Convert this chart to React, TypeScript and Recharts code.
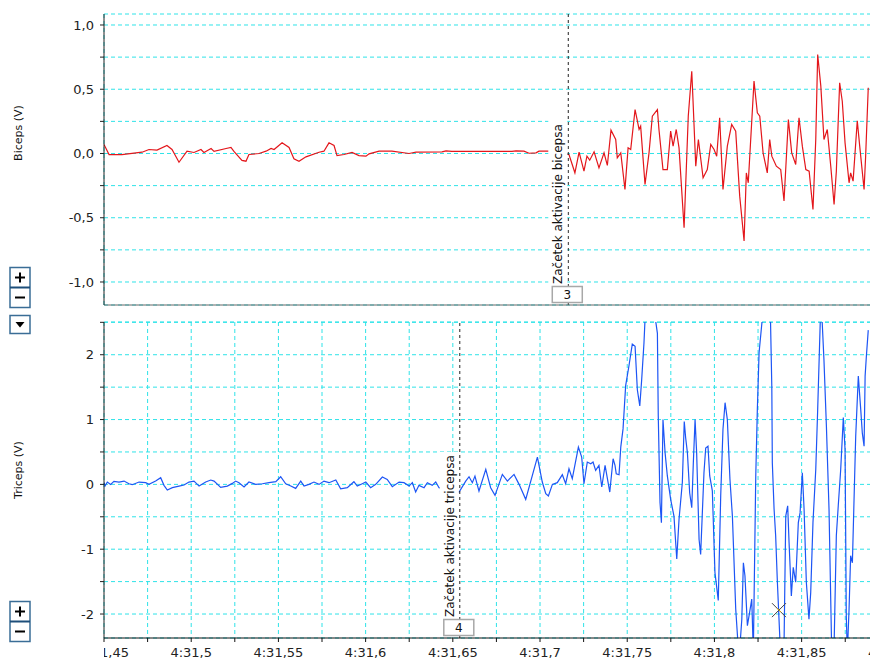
import React from "react";
import { LineChart, Line, XAxis, YAxis, CartesianGrid, ReferenceLine, ReferenceDot } from "recharts";

const FONT = '"DejaVu Sans", sans-serif';
const GRID = "#2fe3e8";

// time axis: seconds after 4:00, every 0.025 s
const xTicks = [
  31.45, 31.475, 31.5, 31.525, 31.55, 31.575, 31.6, 31.625, 31.65, 31.675,
  31.7, 31.725, 31.75, 31.775, 31.8, 31.825, 31.85, 31.875, 31.9,
];
const bicepsTicks = [-1, -0.75, -0.5, -0.25, 0, 0.25, 0.5, 0.75, 1];
const tricepsTicks = [-2, -1.5, -1, -0.5, 0, 0.5, 1, 1.5, 2, 2.5];

// [time, volts]
const bicepsPts: [number, number][] = [
  [31.45, 0.07], [31.4529, -0.008], [31.4603, -0.008], [31.4718, 0.01], [31.4758, 0.031],
  [31.4804, 0.026], [31.4861, 0.062], [31.489, 0.031], [31.493, -0.068], [31.4976, 0.018],
  [31.5016, 0.008], [31.5056, 0.031], [31.5073, 0.008], [31.5114, 0.039], [31.5131, 0.016],
  [31.52, 0.039], [31.5228, 0.047], [31.5245, 0.016], [31.5291, -0.054], [31.5314, -0.06],
  [31.5331, -0.008], [31.5389, 0.0], [31.5429, 0.018], [31.5458, 0.039], [31.5475, 0.031],
  [31.5521, 0.083], [31.5561, 0.047], [31.5589, -0.041], [31.5618, -0.06], [31.5658, -0.026],
  [31.5733, 0.01], [31.5761, 0.018], [31.579, 0.083], [31.5819, 0.062], [31.5836, -0.016],
  [31.5876, -0.008], [31.5922, 0.008], [31.5962, -0.016], [31.6002, -0.021], [31.602, -0.003],
  [31.6077, 0.018], [31.6151, 0.018], [31.6249, 0.0], [31.6289, 0.01], [31.6438, 0.013],
  [31.6461, 0.021], [31.6495, 0.016], [31.6839, 0.016], [31.6862, 0.021], [31.6908, 0.018],
  [31.6937, 0.002], [31.6977, 0.005], [31.6994, 0.018], [31.7052, 0.018],
  [31.7166, -0.008], [31.72, -0.15], [31.7224, 0.01], [31.7252, -0.137], [31.7269, -0.021],
  [31.7285, -0.052], [31.731, 0.013], [31.7338, -0.112], [31.7367, 0.005], [31.7386, -0.093],
  [31.7407, 0.182], [31.7434, 0.109], [31.7443, -0.034], [31.7463, 0.005], [31.7487, -0.28],
  [31.7505, 0.044], [31.752, 0.031], [31.7545, 0.342], [31.7568, 0.187], [31.7577, 0.213],
  [31.7602, -0.241], [31.7625, 0.005], [31.7644, 0.29], [31.7673, 0.342], [31.7682, 0.187],
  [31.7705, -0.125], [31.773, -0.125], [31.7749, 0.174], [31.7763, 0.057], [31.7781, 0.187],
  [31.7797, 0.044], [31.7826, -0.578], [31.785, 0.29], [31.787, 0.64], [31.7877, 0.42],
  [31.7893, -0.099], [31.7908, 0.109], [31.7935, -0.189], [31.7959, -0.125], [31.7979, 0.07],
  [31.7998, 0.031], [31.8013, -0.021], [31.803, 0.278], [31.8049, -0.28], [31.8074, 0.057],
  [31.8099, 0.226], [31.8122, 0.174], [31.8145, -0.332], [31.817, -0.681], [31.8183, -0.151],
  [31.8194, -0.228], [31.8208, 0.109], [31.8227, 0.563], [31.8246, 0.317], [31.826, 0.29],
  [31.8279, 0.005], [31.8303, -0.151], [31.8317, 0.109], [31.8329, -0.021], [31.8355, -0.099],
  [31.838, -0.125], [31.8399, -0.37], [31.8424, 0.264], [31.8443, 0.005], [31.8466, -0.086],
  [31.8485, 0.278], [31.8504, 0.057], [31.8524, -0.125], [31.8543, -0.138], [31.8565, -0.436],
  [31.8581, 0.109], [31.8592, 0.77], [31.861, 0.524], [31.8628, 0.109], [31.8647, 0.187],
  [31.8667, -0.099], [31.8686, -0.397], [31.8699, -0.138], [31.8718, 0.55], [31.8733, 0.407],
  [31.8749, 0.083], [31.8772, -0.228], [31.8781, -0.151], [31.8795, -0.215], [31.8819, 0.255],
  [31.8833, 0.057], [31.8858, -0.28], [31.8867, -0.021], [31.8882, 0.511],
];

const tricepsPts: [number, number][] = [
  [31.45, 0.03], [31.4506, -0.026], [31.4519, 0.036], [31.4538, 0.0], [31.4557, 0.046],
  [31.4586, 0.036], [31.4615, 0.051], [31.4643, 0.01], [31.4662, -0.005], [31.4701, 0.036],
  [31.4739, 0.026], [31.4758, 0.0], [31.4796, 0.051], [31.4825, 0.103], [31.4844, -0.015],
  [31.4863, -0.087], [31.4892, -0.051], [31.493, -0.026], [31.4959, -0.01], [31.4987, 0.036],
  [31.5016, 0.051], [31.5045, -0.026], [31.5083, 0.036], [31.5112, 0.067], [31.5131, 0.051],
  [31.5169, -0.046], [31.5207, -0.026], [31.5236, 0.015], [31.5255, 0.051], [31.5274, 0.026],
  [31.5303, -0.041], [31.5331, 0.036], [31.537, 0.0], [31.5408, 0.01], [31.5446, 0.026],
  [31.5485, 0.041], [31.5513, 0.118], [31.5542, 0.01], [31.5571, -0.026], [31.5599, -0.062],
  [31.5628, 0.051], [31.5647, -0.026], [31.5675, 0.0], [31.5704, 0.036], [31.5733, 0.0],
  [31.5761, 0.051], [31.579, 0.026], [31.5829, 0.067], [31.5857, -0.067], [31.5895, -0.051],
  [31.5933, 0.041], [31.5952, -0.026], [31.5981, 0.01], [31.6001, 0.036], [31.6029, -0.051],
  [31.6058, 0.0], [31.6096, 0.113], [31.6124, 0.077], [31.6153, -0.036], [31.6192, 0.036],
  [31.622, 0.026], [31.6249, -0.026], [31.6268, 0.026], [31.6287, -0.118], [31.6306, -0.015],
  [31.6335, -0.051], [31.6354, 0.026], [31.6382, -0.015], [31.6402, 0.036], [31.6421, -0.051],
  [31.6536, -0.118], [31.6574, 0.051], [31.6593, 0.118], [31.6612, 0.026], [31.6627, 0.128],
  [31.665, -0.103], [31.6689, 0.231], [31.6717, -0.051], [31.6742, -0.169], [31.6784, 0.154],
  [31.6813, 0.051], [31.6851, 0.154], [31.688, 0.0], [31.6918, -0.231], [31.6985, 0.42],
  [31.7013, 0.036], [31.7033, -0.144], [31.7048, -0.18], [31.7071, 0.0], [31.7099, 0.026],
  [31.7128, 0.149], [31.7147, 0.01], [31.7166, 0.241], [31.7185, 0.087], [31.722, 0.574],
  [31.7239, 0.42], [31.7252, 0.01], [31.7271, 0.344], [31.7291, 0.318], [31.7304, 0.344],
  [31.7319, 0.215], [31.7338, 0.292], [31.7354, -0.041], [31.7373, 0.292], [31.74, -0.118],
  [31.7419, 0.395], [31.743, 0.292], [31.7437, 0.164], [31.7453, 0.149], [31.7463, 0.574],
  [31.7476, 0.856], [31.7491, 1.523], [31.751, 1.83], [31.7529, 2.164], [31.7545, 2.13],
  [31.7558, 1.46], [31.7572, 1.21], [31.7583, 1.62], [31.7596, 2.18], [31.7602, 2.54],
  [31.7631, 2.9], [31.7659, 2.6], [31.7673, 2.33], [31.7678, 1.05], [31.7688, -0.28],
  [31.7696, -0.59], [31.7705, 1.0], [31.7717, 0.49], [31.773, 0.13], [31.7749, -0.23],
  [31.7768, -0.49], [31.7784, -1.15], [31.7797, -0.54], [31.7816, 0.03], [31.7827, 0.97],
  [31.7835, 0.72], [31.7845, 0.49], [31.7858, -0.13], [31.787, -0.36], [31.7879, 0.33],
  [31.7889, 1.0], [31.7898, 0.49], [31.7912, -0.85], [31.7921, -1.08], [31.794, 0.18],
  [31.795, 0.56], [31.7963, 0.59], [31.7973, 0.13], [31.7988, -0.1], [31.8003, -1.36],
  [31.8022, -1.79], [31.8036, -0.18], [31.8049, 0.85], [31.8061, 1.26], [31.8074, 1.0],
  [31.8089, 0.08], [31.8103, -0.49], [31.8122, -1.92], [31.8141, -2.7], [31.8157, -2.08],
  [31.8166, -1.21], [31.8175, -1.41], [31.8189, -2.18], [31.8202, -1.97], [31.8214, -1.77],
  [31.8223, -2.6], [31.8237, 0.13], [31.8246, 1.15], [31.8256, 2.03], [31.829, 3.0],
  [31.8321, 2.6], [31.8329, 1.51], [31.8332, 0.33], [31.8342, -0.38], [31.8351, -0.79],
  [31.8361, -1.51], [31.8382, -2.8], [31.8399, -2.5], [31.8409, -0.49], [31.842, -0.33],
  [31.8428, -0.9], [31.8441, -1.72], [31.8452, -1.28], [31.8466, -1.51], [31.8481, -0.59],
  [31.8491, -0.44], [31.8504, 0.18], [31.8514, -0.38], [31.8527, -1.51], [31.8542, -2.08],
  [31.8552, -1.67], [31.8565, -0.59], [31.8581, 0.23], [31.8592, 1.15], [31.8611, 2.9],
  [31.8628, 1.92], [31.8642, 0.9], [31.8657, -0.38], [31.8674, -2.8], [31.8686, -2.5],
  [31.8699, -0.79], [31.871, -0.33], [31.8724, 0.23], [31.8739, 1.03], [31.8749, 0.54],
  [31.8756, -2.03], [31.8762, -2.6], [31.8772, -1.92], [31.8781, -1.1], [31.8791, -1.21],
  [31.881, 0.74], [31.8825, 1.67], [31.8839, 1.15], [31.8848, 0.79], [31.8858, 0.59],
  [31.8864, 1.67], [31.8871, 1.97], [31.8882, 2.38],
];

const bicepsMarker = { t: 31.7162, num: "3", text: "Začetek aktivacije bicepsa" };
const tricepsMarker = { t: 31.654, num: "4", text: "Začetek aktivacije tricepsa" };
const cursorPoint = { t: 31.837, v: -1.94 };

const bicepsData = bicepsPts.map(([t, v]) => ({ t, v }));
const tricepsData = tricepsPts.map(([t, v]) => ({ t, v }));

const isStep = (v: number, step: number) => Math.abs(Math.round(v / step) * step - v) < 1e-6;
const fmtTime = (t: number) => (isStep(t, 0.05) ? "4:" + String(+t.toFixed(2)).replace(".", ",") : "");
const fmtBiceps = (v: number) => (isStep(v, 0.5) ? v.toFixed(1).replace(".", ",") : "");
const fmtTriceps = (v: number) => (isStep(v, 1) ? String(v) : "");

const TimeTick = (props: any) => {
  const { x, y, payload, index } = props;
  const label = fmtTime(payload.value);
  if (!label) return <g />;
  const id = `tclip-${index}`;
  return (
    <g>
      <defs>
        <clipPath id={id}>
          <rect x={104} y={y - 5} width={800} height={30} />
        </clipPath>
      </defs>
      <text x={x} y={y} dy={12.5} textAnchor="middle" fontSize={13} fill="#222" clipPath={`url(#${id})`}>
        {label}
      </text>
    </g>
  );
};

// comment marker: white strip with rotated text and numbered box
const MarkerLabel = (props: any) => {
  const { viewBox, text, num } = props;
  if (!viewBox) return null;
  const x = viewBox.x;
  const bottom = viewBox.y + viewBox.height;
  return (
    <g>
      <rect x={x - 20} y={bottom - 186} width={19} height={167} fill="#fff" />
      <text transform={`translate(${x - 6},${bottom - 21}) rotate(-90)`} fontSize={12} fill="#111">
        {text}
      </text>
      <rect x={x - 16} y={bottom - 18.5} width={30} height={16} fill="#fff" stroke="#a8a8a8" strokeWidth={1.5} />
      <text x={x - 1} y={bottom - 6} textAnchor="middle" fontSize={12} fill="#111">
        {num}
      </text>
    </g>
  );
};

const CursorMark = (props: any) => {
  const { cx, cy } = props;
  return (
    <g strokeWidth={1}>
      <line x1={cx - 7} y1={cy - 7} x2={cx + 7} y2={cy + 7} stroke="#444" />
      <line x1={cx - 7} y1={cy + 7} x2={cx + 7} y2={cy - 7} stroke="#444" />
      <line x1={cx - 2} y1={cy - 2} x2={cx + 2} y2={cy + 2} stroke="#e0b000" />
    </g>
  );
};

const ZoomButtons = ({ y }: { y: number }) => (
  <g>
    <rect x={10} y={y} width={20} height={40} fill="#fff" stroke="#3a6d96" strokeWidth={1.5} />
    <line x1={10} y1={y + 20} x2={30} y2={y + 20} stroke="#1d4e7a" strokeWidth={2} />
    <line x1={15} y1={y + 10} x2={25} y2={y + 10} stroke="#000" strokeWidth={2} />
    <line x1={20} y1={y + 5} x2={20} y2={y + 15} stroke="#000" strokeWidth={2} />
    <line x1={15} y1={y + 30} x2={25} y2={y + 30} stroke="#000" strokeWidth={2} />
  </g>
);

const App: React.FC = () => {
  return (
    <div
      style={{
        position: "absolute",
        left: 0,
        top: 0,
        width: 870,
        height: 662,
        overflow: "hidden",
        background: "#fff",
        fontFamily: FONT,
      }}
    >
      <div style={{ position: "absolute", left: 0, top: 0 }}>
        <LineChart width={900} height={310} data={bicepsData} margin={{ top: 14, right: 0, bottom: 0, left: 0 }}>
          <CartesianGrid stroke={GRID} strokeDasharray="4 3" />
          <XAxis
            dataKey="t"
            type="number"
            domain={[31.45, 31.9064]}
            ticks={xTicks}
            interval={0}
            allowDataOverflow
            height={5}
            tick={false}
            tickLine={false}
            axisLine={{ stroke: "#666" }}
          />
          <YAxis
            type="number"
            domain={[-1.179, 1.0856]}
            ticks={bicepsTicks}
            interval={0}
            allowDataOverflow
            width={104}
            tickFormatter={fmtBiceps}
            tick={{ fontSize: 13, fill: "#222" }}
            tickSize={4}
            tickMargin={6}
            axisLine={{ stroke: "#222" }}
            tickLine={{ stroke: "#222" }}
          />
          <Line type="linear" dataKey="v" stroke="#e3161b" strokeWidth={1.2} dot={false} isAnimationActive={false} />
          <ReferenceLine
            x={bicepsMarker.t}
            stroke="#222"
            strokeDasharray="3 3"
            label={<MarkerLabel text={bicepsMarker.text} num={bicepsMarker.num} />}
          />
        </LineChart>
      </div>

      <div style={{ position: "absolute", left: 0, top: 310 }}>
        <LineChart width={900} height={352} data={tricepsData} margin={{ top: 12, right: 0, bottom: 0, left: 0 }}>
          <CartesianGrid stroke={GRID} strokeDasharray="4 3" />
          <XAxis
            dataKey="t"
            type="number"
            domain={[31.45, 31.9064]}
            ticks={xTicks}
            interval={0}
            allowDataOverflow
            height={24}
            tick={<TimeTick />}
            tickSize={4}
            tickMargin={2}
            axisLine={{ stroke: "#111" }}
            tickLine={{ stroke: "#111" }}
          />
          <YAxis
            type="number"
            domain={[-2.37, 2.505]}
            ticks={tricepsTicks}
            interval={0}
            allowDataOverflow
            width={104}
            tickFormatter={fmtTriceps}
            tick={{ fontSize: 13, fill: "#222" }}
            tickSize={4}
            tickMargin={6}
            axisLine={{ stroke: "#222" }}
            tickLine={{ stroke: "#222" }}
          />
          <Line type="linear" dataKey="v" stroke="#1d55f5" strokeWidth={1.2} dot={false} isAnimationActive={false} />
          <ReferenceLine
            x={tricepsMarker.t}
            stroke="#222"
            strokeDasharray="3 3"
            label={<MarkerLabel text={tricepsMarker.text} num={tricepsMarker.num} />}
          />
          <ReferenceDot x={cursorPoint.t} y={cursorPoint.v} r={7} shape={<CursorMark />} />
        </LineChart>
      </div>

      <svg width={40} height={662} style={{ position: "absolute", left: 0, top: 0 }}>
        <text transform="translate(22,133) rotate(-90)" textAnchor="middle" fontSize={11} fill="#111">
          Biceps (V)
        </text>
        <text transform="translate(22,470) rotate(-90)" textAnchor="middle" fontSize={11} fill="#111">
          Triceps (V)
        </text>
        <ZoomButtons y={267.5} />
        <rect x={10} y={315.5} width={20} height={18} fill="#fff" stroke="#3a6d96" strokeWidth={1.5} />
        <polygon points="15.5,322 24.5,322 20,327.5" fill="#000" />
        <ZoomButtons y={601.5} />
      </svg>
    </div>
  );
};

export default App;
